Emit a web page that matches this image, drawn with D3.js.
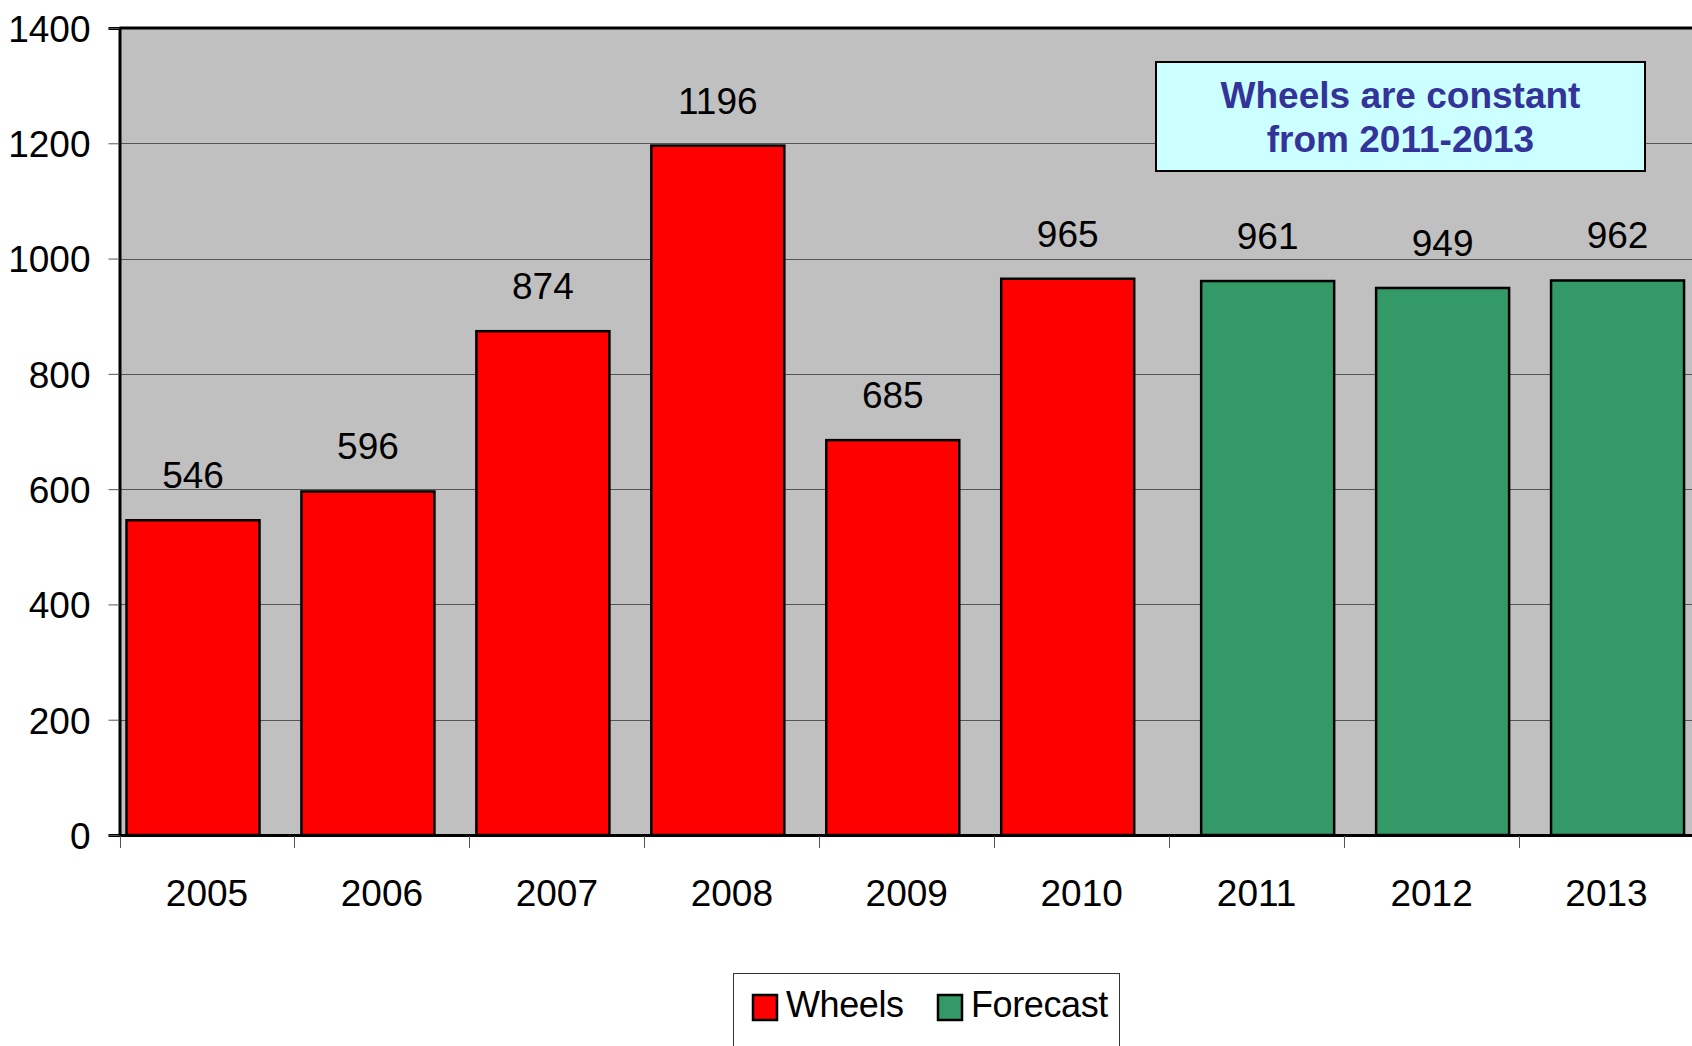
<!DOCTYPE html>
<html>
<head>
<meta charset="utf-8">
<script src="https://cdn.jsdelivr.net/npm/d3@7"></script>
<style>
  body { margin: 0; background: #ffffff; }
  svg { display: block; font-family: "Liberation Sans", Arial, sans-serif; }
</style>
</head>
<body>
<script>
// chart data
var years = ['2005', '2006', '2007', '2008', '2009', '2010', '2011', '2012', '2013'];
var wheels = [546, 596, 874, 1196, 685, 965, null, null, null];
var forecast = [null, null, null, null, null, null, 961, 949, 962];
var yTicks = [0, 200, 400, 600, 800, 1000, 1200, 1400];
var seriesNames = ['Wheels', 'Forecast'];
var seriesColors = ['#ff0000', '#339966'];
var noteLines = ['Wheels are constant', 'from 2011-2013'];

var W = 1692, H = 1046;
var plot = {left: 119.5, top: 28, right: 1694, bottom: 835};

var svg = d3.select('body').append('svg')
    .attr('width', W)
    .attr('height', H);

var x = d3.scaleBand().domain(years).range([plot.left, plot.right]).padding(0);
var y = d3.scaleLinear().domain([0, 1400]).range([plot.bottom, plot.top]);
// the two series sit in the same slot, shifted a bit (Excel overlap)
var offset = d3.scalePoint().domain(seriesNames).range([7, 32]);
var barW = 133;

// plot background
svg.append('rect')
    .attr('x', plot.left).attr('y', plot.top)
    .attr('width', plot.right - plot.left)
    .attr('height', plot.bottom - plot.top)
    .attr('fill', '#c0c0c0');

// gridlines
svg.append('g')
    .selectAll('line')
    .data(yTicks.filter(function(d){ return d > 0 && d < 1400; }))
    .enter().append('line')
    .attr('x1', plot.left).attr('x2', plot.right)
    .attr('y1', function(d){ return Math.round(y(d)) + 0.5; })
    .attr('y2', function(d){ return Math.round(y(d)) + 0.5; })
    .attr('stroke', '#555555')
    .attr('stroke-width', 1);

// bars
var series = [wheels, forecast];
series.forEach(function(vals, si){
    var pts = years.map(function(yr, i){ return {year: yr, value: vals[i]}; })
                   .filter(function(d){ return d.value != null; });

    svg.append('g')
        .selectAll('rect')
        .data(pts)
        .enter().append('rect')
        .attr('x', function(d){ return x(d.year) + offset(seriesNames[si]); })
        .attr('y', function(d){ return y(d.value); })
        .attr('width', barW)
        .attr('height', function(d){ return y(0) - y(d.value); })
        .attr('fill', seriesColors[si])
        .attr('stroke', '#000')
        .attr('stroke-width', 2.5);

    // value labels
    svg.append('g')
        .selectAll('text')
        .data(pts)
        .enter().append('text')
        .attr('x', function(d){ return x(d.year) + offset(seriesNames[si]) + barW / 2; })
        .attr('y', function(d){ return y(d.value) - 32; })
        .attr('text-anchor', 'middle')
        .attr('font-size', 37)
        .attr('fill', '#000')
        .text(function(d){ return d.value; });
});

// plot frame: top thick black
svg.append('line')
    .attr('x1', plot.left).attr('x2', plot.right)
    .attr('y1', plot.top).attr('y2', plot.top)
    .attr('stroke', '#000').attr('stroke-width', 3);

// y axis
var yAxis = d3.axisLeft(y).tickValues(yTicks).tickFormat(d3.format('d'))
    .tickSize(11).tickPadding(18);
var gy = svg.append('g')
    .attr('transform', 'translate(' + plot.left + ',0)')
    .call(yAxis);
gy.select('.domain').attr('stroke', '#000').attr('stroke-width', 3);
gy.selectAll('.tick line').attr('stroke', '#555');
gy.selectAll('.tick text')
    .attr('font-size', 37)
    .attr('font-family', '"Liberation Sans", Arial, sans-serif')
    .attr('fill', '#000')
    .attr('dy', '0.36em');

// x axis
var xAxis = d3.axisBottom(x).tickSize(0).tickPadding(71);
var gx = svg.append('g')
    .attr('transform', 'translate(0,' + plot.bottom + ')')
    .call(xAxis);
gx.select('.domain').attr('stroke', '#000').attr('stroke-width', 3);
gx.selectAll('.tick text')
    .attr('font-size', 37)
    .attr('font-family', '"Liberation Sans", Arial, sans-serif')
    .attr('fill', '#000')
    .attr('dy', '0');
// category separators below the axis
svg.append('g')
    .selectAll('line')
    .data(years)
    .enter().append('line')
    .attr('x1', function(d){ return Math.round(x(d)) + 0.5; })
    .attr('x2', function(d){ return Math.round(x(d)) + 0.5; })
    .attr('y1', plot.bottom + 1)
    .attr('y2', plot.bottom + 13)
    .attr('stroke', '#555');

// note box
var note = svg.append('g');
note.append('rect')
    .attr('x', 1156).attr('y', 62)
    .attr('width', 489).attr('height', 109)
    .attr('fill', '#ccffff')
    .attr('stroke', '#000')
    .attr('stroke-width', 2);
note.selectAll('text')
    .data(noteLines)
    .enter().append('text')
    .attr('x', 1400.5)
    .attr('y', function(d, i){ return 108 + i * 44; })
    .attr('text-anchor', 'middle')
    .attr('font-size', 37)
    .attr('font-weight', 'bold')
    .attr('fill', '#333399')
    .text(function(d){ return d; });

// legend
var legend = svg.append('g');
legend.append('rect')
    .attr('x', 733.5).attr('y', 973.5)
    .attr('width', 386).attr('height', 90)
    .attr('fill', '#fff')
    .attr('stroke', '#333')
    .attr('stroke-width', 1);
var legX = [753, 938];
seriesNames.forEach(function(name, i){
    legend.append('rect')
        .attr('x', legX[i]).attr('y', 995)
        .attr('width', 24).attr('height', 25)
        .attr('fill', seriesColors[i])
        .attr('stroke', '#000')
        .attr('stroke-width', 2.5);
    legend.append('text')
        .attr('x', legX[i] + 33)
        .attr('y', 1017)
        .attr('font-size', 36)
        .attr('letter-spacing', -0.4)
        .attr('fill', '#000')
        .text(name);
});
</script>
</body>
</html>
